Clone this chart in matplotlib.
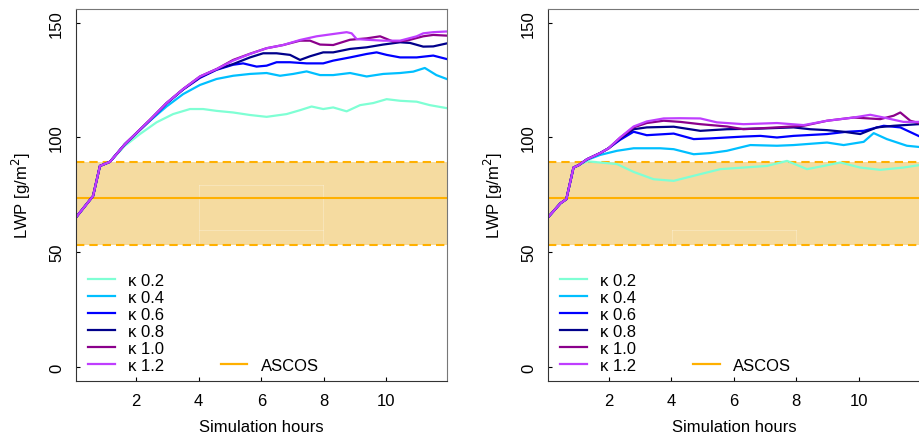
import matplotlib
matplotlib.use("Agg")
import matplotlib.pyplot as plt
from matplotlib.lines import Line2D

plt.rcParams['font.family'] = ['Liberation Sans', 'DejaVu Sans']
plt.rcParams['font.size'] = 12

# ---- data (hours, LWP g/m2) ----
# left panel
left_k02 = [(0.07, 65.1), (0.62, 74.5), (0.84, 87.6), (1.16, 89.4), (1.64, 96.4), (2.12, 101.5),
            (2.65, 106.6), (3.18, 110.2), (3.72, 112.4), (4.14, 112.4), (4.57, 111.6), (5.1, 110.9),
            (5.64, 109.8), (6.17, 109.0), (6.81, 110.2), (7.24, 111.9), (7.61, 113.5), (7.98, 112.4),
            (8.3, 113.1), (8.73, 111.4), (9.16, 114.1), (9.58, 115.0), (10.01, 116.7), (10.44, 116.0),
            (10.97, 115.6), (11.39, 114.1), (11.93, 112.8)]
left_k04 = [(0.07, 65.1), (0.62, 74.5), (0.84, 87.6), (1.16, 89.4), (1.64, 97.1), (2.44, 107.3),
            (2.97, 113.5), (3.5, 118.9), (4.04, 122.9), (4.57, 125.5), (5.1, 126.9), (5.64, 127.7),
            (6.17, 128.1), (6.6, 126.9), (7.02, 127.7), (7.45, 128.8), (7.88, 127.2), (8.3, 127.2),
            (8.84, 128.1), (9.37, 126.6), (9.9, 127.7), (10.44, 128.1), (10.86, 128.7), (11.23, 130.3),
            (11.6, 127.2), (11.93, 125.5)]
left_k06 = [(0.07, 65.1), (0.62, 74.5), (0.84, 87.6), (1.16, 89.4), (1.64, 97.1), (2.44, 107.5),
            (2.97, 114.8), (3.5, 120.9), (4.04, 126.0), (4.57, 129.5), (5.1, 131.7), (5.42, 132.3),
            (5.85, 130.9), (6.17, 131.3), (6.49, 132.8), (6.92, 132.8), (7.45, 132.3), (7.98, 132.3),
            (8.3, 133.5), (8.84, 134.9), (9.37, 136.4), (9.69, 137.1), (10.01, 136.0), (10.44, 134.9),
            (10.97, 134.9), (11.5, 135.7), (11.93, 134.2)]
left_k08 = [(0.07, 65.1), (0.62, 74.5), (0.84, 87.6), (1.16, 89.4), (1.64, 97.1), (2.44, 107.6),
            (2.97, 114.9), (3.5, 121.0), (4.04, 126.3), (4.57, 129.7), (5.1, 132.0), (5.64, 134.9),
            (6.06, 136.7), (6.49, 136.7), (6.92, 136.0), (7.24, 133.8), (7.56, 135.4), (7.98, 137.1),
            (8.3, 137.1), (8.84, 138.6), (9.37, 139.3), (9.9, 140.5), (10.44, 141.5), (10.76, 141.2),
            (11.18, 139.6), (11.5, 139.7), (11.93, 141.0)]
left_k10 = [(0.07, 65.1), (0.62, 74.5), (0.84, 87.6), (1.16, 89.4), (1.64, 97.1), (2.44, 107.7),
            (2.97, 115.0), (3.5, 121.1), (4.04, 126.6), (4.57, 129.8), (5.1, 133.8), (5.64, 136.5),
            (6.17, 138.9), (6.7, 140.3), (7.24, 142.2), (7.56, 142.2), (7.88, 140.5), (8.3, 140.3),
            (8.84, 142.6), (9.37, 143.2), (9.8, 144.1), (10.22, 141.8), (10.65, 142.2), (11.18, 144.1),
            (11.5, 144.7), (11.93, 144.4)]
left_k12 = [(0.07, 65.1), (0.62, 74.5), (0.84, 87.6), (1.16, 89.4), (1.64, 97.1), (2.44, 107.7),
            (2.97, 115.0), (3.5, 121.1), (4.04, 126.6), (4.57, 129.8), (5.1, 133.5), (5.64, 136.4),
            (6.17, 138.9), (6.7, 140.3), (7.24, 142.5), (7.77, 144.1), (8.3, 145.1), (8.73, 145.9),
            (8.89, 145.4), (9.05, 142.9), (9.37, 142.6), (9.9, 142.2), (10.44, 142.2), (10.97, 144.1),
            (11.18, 145.4), (11.5, 145.9), (11.93, 146.2)]

# right panel
right_k02 = [(0.06, 65.1), (0.46, 71.3), (0.65, 73.1), (0.88, 86.9), (1.04, 87.9), (1.31, 89.6),
             (1.73, 89.1), (2.27, 88.4), (2.8, 85.0), (3.44, 81.8), (4.08, 81.1), (4.72, 83.3),
             (5.57, 86.2), (6.31, 86.9), (7.06, 87.6), (7.7, 89.8), (8.34, 86.2), (8.87, 87.6),
             (9.4, 89.1), (10.04, 86.9), (10.68, 85.9), (11.42, 86.9), (11.9, 87.9)]
right_k04 = [(0.06, 65.1), (0.46, 71.3), (0.65, 73.1), (0.88, 86.9), (1.04, 87.9), (1.31, 90.2),
             (1.73, 92.4), (2.27, 94.2), (2.8, 95.3), (3.65, 95.3), (4.08, 94.9), (4.72, 92.7),
             (5.25, 93.2), (5.78, 94.2), (6.53, 96.7), (7.38, 96.4), (7.91, 96.7), (8.98, 97.8),
             (9.51, 96.7), (10.15, 98.1), (10.47, 101.9), (10.89, 99.3), (11.53, 96.4), (11.9, 95.9)]
right_k06 = [(0.06, 65.1), (0.46, 71.3), (0.65, 73.1), (0.88, 86.9), (1.04, 87.9), (1.31, 90.5),
             (1.73, 93.2), (2.0, 95.3), (2.37, 99.0), (2.8, 102.5), (3.22, 101.0), (4.08, 101.7),
             (4.72, 99.3), (5.25, 99.6), (6.31, 100.4), (6.85, 100.7), (7.38, 100.0), (7.91, 100.7),
             (8.98, 101.5), (9.61, 102.5), (10.15, 102.9), (10.79, 105.1), (11.32, 104.4), (11.9, 100.7)]
right_k08 = [(0.06, 65.1), (0.46, 71.3), (0.65, 73.1), (0.88, 86.9), (1.04, 87.9), (1.31, 90.5),
             (1.73, 93.2), (2.0, 95.3), (2.37, 99.6), (2.8, 103.6), (3.22, 104.4), (4.08, 104.7),
             (4.93, 102.9), (5.78, 103.6), (6.85, 103.9), (7.91, 104.4), (8.44, 103.6), (8.98, 103.2),
             (9.51, 102.5), (10.04, 101.5), (10.57, 104.4), (11.11, 105.1), (11.9, 105.8)]
right_k10 = [(0.06, 65.1), (0.46, 71.3), (0.65, 73.1), (0.88, 86.9), (1.04, 87.9), (1.31, 90.5),
             (1.73, 93.2), (2.0, 95.3), (2.37, 99.9), (2.8, 104.4), (3.22, 106.3), (3.76, 107.3),
             (4.29, 106.8), (4.93, 105.8), (5.78, 104.8), (6.31, 103.6), (7.38, 104.4), (8.23, 105.1),
             (8.98, 107.3), (9.83, 108.7), (10.68, 108.0), (11.11, 109.5), (11.32, 110.9), (11.64, 107.3),
             (11.9, 106.3)]
right_k12 = [(0.06, 65.1), (0.46, 71.3), (0.65, 73.1), (0.88, 86.9), (1.04, 87.9), (1.31, 90.5),
             (1.73, 93.2), (2.0, 95.3), (2.37, 100.0), (2.8, 104.8), (3.22, 107.0), (3.76, 108.3),
             (4.29, 108.4), (4.93, 108.3), (5.46, 106.6), (6.31, 105.8), (7.38, 106.3), (8.23, 105.4),
             (8.98, 107.3), (9.83, 108.7), (10.36, 109.9), (10.79, 108.7), (11.42, 106.8), (11.9, 106.8)]

kappa_labels = ["κ 0.2", "κ 0.4", "κ 0.6", "κ 0.8", "κ 1.0", "κ 1.2"]
kappa_colors = ["#7FFFD4", "#00BFFF", "#0000FF", "#00008B", "#8B008B", "#BF3EFF"]

# ASCOS observations: mean and range
ascos_mean = 73.5
ascos_low = 53.0
ascos_high = 89.4

ascos_color = "#FFB000"
band_color = "#F5DBA0"

# faint leftover box visible inside the band (hours, LWP)
ghost_x = (4.02, 7.98)
ghost_left_y = (59.5, 79.2)
ghost_right_y = (59.5,)

xlim = (0.065, 11.94)
ylim = (-6, 156)


def draw_panel(ax, series, ghost_y):
    ax.axhspan(ascos_low, ascos_high, color=band_color, lw=0, zorder=0)
    # faint white outline
    for y in ghost_y:
        ax.plot(ghost_x, (y, y), color="white", lw=0.6, alpha=0.3, zorder=0.5)
    for x in ghost_x:
        ax.plot((x, x), (ascos_low, max(ghost_y)), color="white", lw=0.6, alpha=0.3, zorder=0.5)
    ax.axhline(ascos_mean, color=ascos_color, lw=1.5, zorder=1)
    for y in (ascos_low, ascos_high):
        ax.axhline(y, color=ascos_color, lw=1.5, dashes=(4, 2.4), zorder=1)

    for pts, c in zip(series, kappa_colors):
        t = [p[0] for p in pts]
        v = [p[1] for p in pts]
        ax.plot(t, v, color=c, lw=1.6, solid_joinstyle="round", zorder=2)

    ax.set_xlim(*xlim)
    ax.set_ylim(*ylim)
    ax.set_xticks([2, 4, 6, 8, 10])
    ax.set_yticks([0, 50, 100, 150])
    ax.tick_params(direction="in", length=3, width=0.8, pad=8.5, labelsize=12)
    for lab in ax.get_yticklabels():
        lab.set_rotation(90)
        lab.set_va("center")
    for side in ("left", "bottom"):
        ax.spines[side].set_color("#333333")
    for side in ("top", "right"):
        ax.spines[side].set_color("#777777")

    ax.set_xlabel("Simulation hours", fontsize=12)
    ax.set_ylabel("LWP [g/m$^2$]", fontsize=12)
    ax.xaxis.set_label_coords(0.5, -0.103)
    ax.yaxis.set_label_coords(-0.115, 0.5)

    # legend: six kappa entries in first column, ASCOS at bottom of second
    blank = Line2D([], [], alpha=0)
    handles = [Line2D([], [], color=c, lw=1.6) for c in kappa_colors]
    handles += [blank] * 5 + [Line2D([], [], color=ascos_color, lw=1.6)]
    labels = kappa_labels + [""] * 5 + ["ASCOS"]
    ax.legend(handles, labels, ncol=2, loc="lower left", bbox_to_anchor=(0.033, 0.022),
              frameon=False, borderpad=0, borderaxespad=0, handlelength=1.6,
              handletextpad=0.8, labelspacing=0.12, columnspacing=3.4, fontsize=12)


fig = plt.figure(figsize=(9.19, 4.35), dpi=100)
ax1 = fig.add_axes([75.7 / 919, 53.3 / 435, 371.3 / 919, 371.7 / 435])
ax2 = fig.add_axes([548.0 / 919, 53.3 / 435, 371.7 / 919, 371.7 / 435])

draw_panel(ax1, [left_k02, left_k04, left_k06, left_k08, left_k10, left_k12], ghost_left_y)
draw_panel(ax2, [right_k02, right_k04, right_k06, right_k08, right_k10, right_k12], ghost_right_y)

fig.savefig("out.png", dpi=100)
